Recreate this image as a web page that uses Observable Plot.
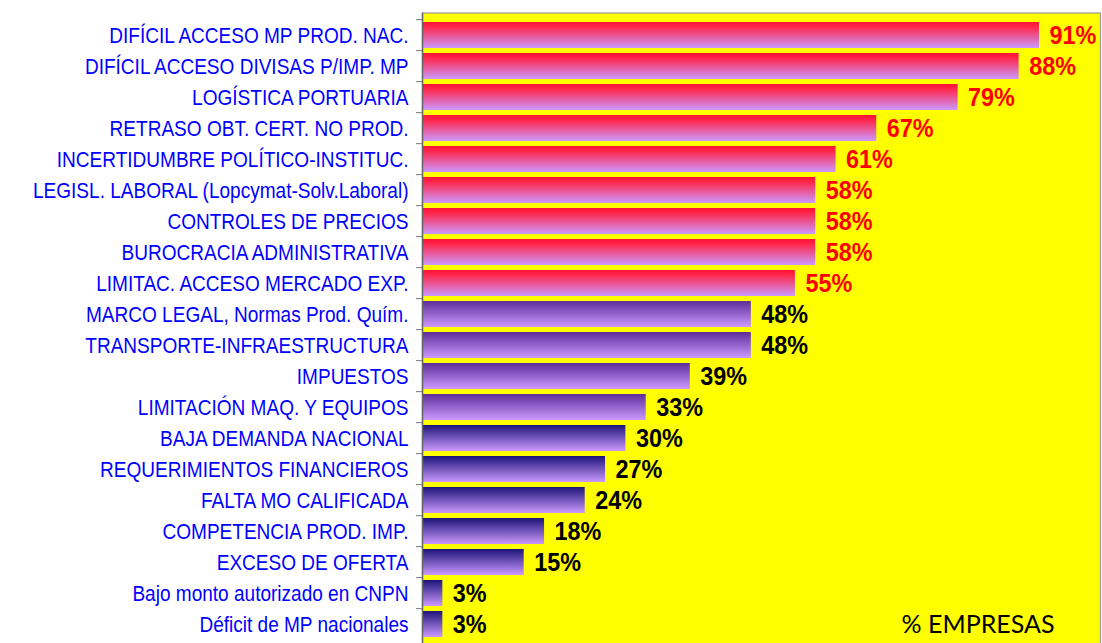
<!DOCTYPE html>
<html>
<head>
<meta charset="utf-8">
<script src="https://cdn.jsdelivr.net/npm/d3@7"></script>
<script src="https://cdn.jsdelivr.net/npm/@observablehq/plot@0.6"></script>
<style>
  html, body { margin: 0; padding: 0; background: #ffffff; overflow: hidden; }
  #chart svg { display: block; }
</style>
</head>
<body>
<div id="chart"></div>
<script>
const categories = [
  "DIFÍCIL ACCESO MP PROD. NAC.",
  "DIFÍCIL ACCESO DIVISAS P/IMP. MP",
  "LOGÍSTICA PORTUARIA",
  "RETRASO OBT. CERT. NO PROD.",
  "INCERTIDUMBRE POLÍTICO-INSTITUC.",
  "LEGISL. LABORAL (Lopcymat-Solv.Laboral)",
  "CONTROLES DE PRECIOS",
  "BUROCRACIA ADMINISTRATIVA",
  "LIMITAC. ACCESO MERCADO EXP.",
  "MARCO LEGAL, Normas Prod. Quím.",
  "TRANSPORTE-INFRAESTRUCTURA",
  "IMPUESTOS",
  "LIMITACIÓN MAQ. Y EQUIPOS",
  "BAJA DEMANDA NACIONAL",
  "REQUERIMIENTOS FINANCIEROS",
  "FALTA MO CALIFICADA",
  "COMPETENCIA PROD. IMP.",
  "EXCESO DE OFERTA",
  "Bajo monto autorizado en CNPN",
  "Déficit de MP nacionales"
];
const values = [91, 88, 79, 67, 61, 58, 58, 58, 55, 48.5, 48.5, 39.5, 33, 30, 27, 24, 18, 15, 3, 3];
const valueLabels = ["91%", "88%", "79%", "67%", "61%", "58%", "58%", "58%", "55%", "48%", "48%", "39%", "33%", "30%", "27%", "24%", "18%", "15%", "3%", "3%"];
// colour group of each bar: red (top problems), purple, navy
const groups = ["red","red","red","red","red","red","red","red","red",
                "purple","purple","purple","purple",
                "navy","navy","navy","navy","navy","navy","navy"];
const axisTitle = "% EMPRESAS";

const data = categories.map((c, i) => ({cat: c, value: values[i], label: valueLabels[i], group: groups[i]}));

const gradients = {
  red:    [["0%", "#ff1236"], ["18%", "#ff2448"], ["100%", "#cc99ff"]],
  purple: [["0%", "#5e2d99"], ["100%", "#cc99ff"]],
  navy:   [["0%", "#1c1478"], ["100%", "#cc99ff"]]
};

const defsMark = () => {
  const defs = d3.create("svg:defs");
  for (const [name, stops] of Object.entries(gradients)) {
    const lg = defs.append("linearGradient")
      .attr("id", "grad-" + name)
      .attr("x1", 0).attr("y1", 0).attr("x2", 0).attr("y2", 1);
    for (const [off, col] of stops) lg.append("stop").attr("offset", off).attr("stop-color", col);
  }
  return defs.node();
};

const H = 647, TOP = 12.5, BOTTOM = 0.5;
const step = (H - TOP - BOTTOM) / categories.length;
const font = "'Liberation Sans', Arial, sans-serif";

const chart = Plot.plot({
  width: 1102,
  height: H,
  marginTop: TOP,
  marginBottom: BOTTOM,
  marginLeft: 422,
  marginRight: 2,
  style: {background: "transparent", fontFamily: font, overflow: "visible"},
  x: {domain: [0, 100], axis: null},
  y: {domain: categories, paddingInner: 0.15, paddingOuter: 0.075, axis: null},
  marks: [
    defsMark,
    Plot.frame({fill: "#ffff00", stroke: "#9a9a9a", strokeWidth: 1.2}),
    ...["red", "purple", "navy"].map(g =>
      Plot.barX(data.filter(d => d.group === g), {
        x: "value", y: "cat", fill: `url(#grad-${g})`
      })
    ),
    Plot.ruleX([0], {stroke: "#666666", strokeWidth: 1.5}),
    Plot.ruleY(categories, {y: d => d, x1: -0.9, x2: 0, dy: -step / 2, stroke: "#777777"}),
    Plot.axisY({
      tickSize: 0, tickPadding: 14, color: "#0000ff",
      fontSize: 22, fontFamily: font, label: null
    }),
    Plot.text(data.filter(d => d.group === "red"), {
      x: "value", y: "cat", text: "label", dx: 10, textAnchor: "start",
      fill: "#ff0000", fontSize: 26, fontWeight: "bold", fontFamily: font
    }),
    Plot.text(data.filter(d => d.group !== "red"), {
      x: "value", y: "cat", text: "label", dx: 10, textAnchor: "start",
      fill: "#000000", fontSize: 26, fontWeight: "bold", fontFamily: font
    }),
    Plot.text([axisTitle], {
      frameAnchor: "bottom-right", text: d => d, dx: -46, dy: -14,
      textAnchor: "end", lineAnchor: "bottom",
      fill: "#000000", fontSize: 25, fontFamily: "Lato, 'Open Sans', sans-serif"
    })
  ]
});

document.getElementById("chart").appendChild(chart);

// the original chart is horizontally squeezed: condense the text the same way
function condense(sel, k) {
  chart.querySelectorAll(sel).forEach(t => {
    const w = t.getComputedTextLength();
    if (w > 0) {
      t.setAttribute("textLength", (w * k).toFixed(1));
      t.setAttribute("lengthAdjust", "spacingAndGlyphs");
    }
  });
}
condense('g[aria-label="y-axis tick label"] text', 0.865);
chart.querySelectorAll('g[aria-label="text"] text').forEach(t => {
  if (t.textContent !== axisTitle) {
    const w = t.getComputedTextLength();
    t.setAttribute("textLength", (w * 0.9).toFixed(1));
    t.setAttribute("lengthAdjust", "spacingAndGlyphs");
  }
});
</script>
</body>
</html>
